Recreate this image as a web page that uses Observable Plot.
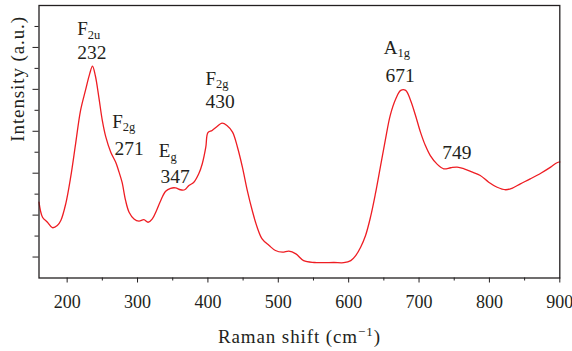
<!DOCTYPE html>
<html>
<head>
<meta charset="utf-8">
<script src="https://cdn.jsdelivr.net/npm/d3@7"></script>
<script src="https://cdn.jsdelivr.net/npm/@observablehq/plot@0.6"></script>
<style>
  html, body { margin: 0; padding: 0; background: #fff; }
</style>
</head>
<body>
<div id="chart"></div>
<script>
// Raman spectrum
const ramanShift = [160,165,172,179,186,191,198,205,212,219,226,232,236,240,245,250,255,262,269,273,278,283,288,295,302,309,315,321,327,333,340,347,354,361,367,373,380,387,392,397,400,406,413,420,427,435,442,449,456,463,470,477,487,496,506,515,525,536,551,565,579,593,603,610,617,624,631,638,645,652,659,667,674,681,688,695,702,709,716,726,735,745,754,764,776,787,799,811,823,832,844,858,873,887,896,900];
const intensity = [362,290,266,240,250,274,354,481,640,799,895,974,1011,966,863,751,672,600,552,513,457,370,314,282,271,278,266,282,322,370,414,428,430,421,421,441,457,497,545,624,693,704,723,739,728,696,624,529,417,322,242,187,155,131,123,128,115,83,74,73,74,73,83,107,147,203,290,402,529,656,775,855,895,895,847,775,696,632,584,542,521,526,529,521,505,489,457,433,421,428,449,473,500,529,550,554];

// Peak annotations
const peakSymbols = ["F_2u", "F_2g", "E_g", "F_2g", "A_1g"];
const symbolX = [214.3, 264, 330.2, 396.6, 649.9];
const symbolY = [1188, 747, 604, 950, 1100];
const peakNumbers = ["232", "271", "347", "430", "671", "749"];
const numberX = [214.3, 267.3, 332.6, 396.6, 652.3, 732.9];
const numberY = [1076, 615, 482, 840, 966, 599];

// Ticks
const xMajorTicks = [200, 300, 400, 500, 600, 700, 800, 900];
const xMinorTicks = [250, 350, 450, 550, 650, 750, 850];
const yMajorTicks = [100, 300, 500, 700, 900, 1100];
const yMinorTicks = [200, 400, 600, 800, 1000, 1200];

const xLabel = "Raman shift (cm^\u22121^)";
const yLabel = "Intensity (a.u.)";

const ink = "#231f20";
const red = "#ee1d23";

const spectrum = ramanShift.map((x, i) => ({x, y: intensity[i]}));
const symbols = peakSymbols.map((t, i) => ({t, x: symbolX[i], y: symbolY[i]}));
const numbers = peakNumbers.map((t, i) => ({t, x: numberX[i], y: numberY[i]}));

const chart = Plot.plot({
  width: 572,
  height: 351,
  marginLeft: 38.5,
  marginRight: 12.7,
  marginTop: 5,
  marginBottom: 73.5,
  x: {domain: [160, 900]},
  y: {domain: [0, 1300]},
  style: {fontFamily: "'Liberation Serif', 'DejaVu Serif', serif", fontSize: "18px", color: ink, background: "#fff"},
  marks: [
    Plot.axisX(xMajorTicks, {tickSize: 5, tickPadding: 12, label: null, fontSize: 18, stroke: ink, fill: ink}),
    Plot.axisX(xMinorTicks, {tickSize: 3, tickFormat: () => "", label: null, stroke: ink}),
    Plot.axisY(yMajorTicks, {tickSize: 6, tickFormat: () => "", label: null, stroke: ink}),
    Plot.axisY(yMinorTicks, {tickSize: 4, tickFormat: () => "", label: null, stroke: ink}),
    Plot.line(spectrum, {x: "x", y: "y", stroke: red, strokeWidth: 1.3, curve: "catmull-rom"}),
    Plot.frame({stroke: ink, strokeWidth: 1.3}),
    Plot.text(symbols, {x: "x", y: "y", text: "t", textAnchor: "start", fontSize: 19, fill: ink}),
    Plot.text(numbers, {x: "x", y: "y", text: "t", textAnchor: "start", fontSize: 19.5, fill: ink}),
    Plot.text([yLabel], {frameAnchor: "left", rotate: -90, dx: -21, fontSize: 19, fill: ink}),
    Plot.text([xLabel], {frameAnchor: "bottom", lineAnchor: "middle", dy: 58.5, fontSize: 19, fill: ink})
  ]
});

// Turn "X_sub" into subscripts and "a^sup^b" into superscripts
d3.select(chart).selectAll("text").each(function () {
  const el = d3.select(this);
  if (this.querySelector("tspan")) return;
  const s = this.textContent;
  if (s.includes("_")) {
    const [a, b] = s.split("_");
    el.text(a);
    el.append("tspan").attr("font-size", 12.5).attr("dy", 3.5).text(b);
  } else if (s.includes("^")) {
    const [a, b, c] = s.split("^");
    el.attr("letter-spacing", 0.9);
    el.text(a);
    el.append("tspan").attr("font-size", 13).attr("dy", -7).text(b);
    el.append("tspan").attr("dy", 7).text(c);
  } else if (s === yLabel) {
    el.attr("letter-spacing", 0.9);
  }
});

document.getElementById("chart").append(chart);
</script>
</body>
</html>
